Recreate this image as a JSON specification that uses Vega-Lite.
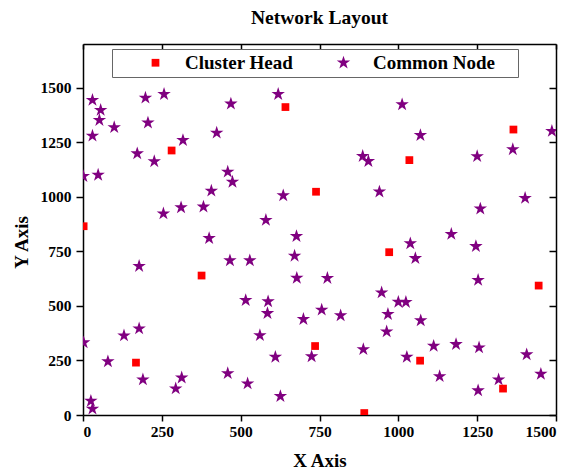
{
  "$schema": "https://vega.github.io/schema/vega-lite/v6.json",
  "autosize": "none",
  "padding": {"left": 83, "top": 44, "right": 16, "bottom": 61},
  "width": 473,
  "height": 371,
  "background": "white",
  "title": {
    "text": "Network Layout",
    "font": "Liberation Serif",
    "fontSize": 19.5,
    "fontWeight": "bold",
    "color": "black",
    "anchor": "middle",
    "baseline": "alphabetic",
    "offset": 0
  },
  "config": {
    "view": {"stroke": null},
    "axis": {
      "grid": false,
      "labelFont": "Liberation Serif",
      "labelFontSize": 15.5,
      "labelFontWeight": "bold",
      "labelColor": "black",
      "titleFont": "Liberation Serif",
      "titleFontSize": 19,
      "titleFontWeight": "bold",
      "titleColor": "black",
      "domainColor": "black",
      "domainWidth": 1.5,
      "tickColor": "black",
      "tickWidth": 1.5
    }
  },
  "data": {
    "values": [
      {"x": 30, "y": 1443, "type": "Common Node"},
      {"x": 56, "y": 1397, "type": "Common Node"},
      {"x": 52, "y": 1351, "type": "Common Node"},
      {"x": 99, "y": 1318, "type": "Common Node"},
      {"x": 30, "y": 1279, "type": "Common Node"},
      {"x": 198, "y": 1453, "type": "Common Node"},
      {"x": 257, "y": 1470, "type": "Common Node"},
      {"x": 206, "y": 1339, "type": "Common Node"},
      {"x": 317, "y": 1259, "type": "Common Node"},
      {"x": 172, "y": 1198, "type": "Common Node"},
      {"x": 226, "y": 1162, "type": "Common Node"},
      {"x": 469, "y": 1426, "type": "Common Node"},
      {"x": 424, "y": 1293, "type": "Common Node"},
      {"x": 459, "y": 1114, "type": "Common Node"},
      {"x": 474, "y": 1068, "type": "Common Node"},
      {"x": 619, "y": 1470, "type": "Common Node"},
      {"x": 407, "y": 1027, "type": "Common Node"},
      {"x": 382, "y": 954, "type": "Common Node"},
      {"x": 311, "y": 951, "type": "Common Node"},
      {"x": 255, "y": 923, "type": "Common Node"},
      {"x": 48, "y": 1100, "type": "Common Node"},
      {"x": 1, "y": 1094, "type": "Common Node"},
      {"x": 635, "y": 1006, "type": "Common Node"},
      {"x": 580, "y": 893, "type": "Common Node"},
      {"x": 1012, "y": 1423, "type": "Common Node"},
      {"x": 1070, "y": 1282, "type": "Common Node"},
      {"x": 1487, "y": 1301, "type": "Common Node"},
      {"x": 887, "y": 1186, "type": "Common Node"},
      {"x": 905, "y": 1163, "type": "Common Node"},
      {"x": 1250, "y": 1185, "type": "Common Node"},
      {"x": 1363, "y": 1217, "type": "Common Node"},
      {"x": 940, "y": 1023, "type": "Common Node"},
      {"x": 1402, "y": 994, "type": "Common Node"},
      {"x": 1260, "y": 945, "type": "Common Node"},
      {"x": 400, "y": 810, "type": "Common Node"},
      {"x": 677, "y": 819, "type": "Common Node"},
      {"x": 671, "y": 729, "type": "Common Node"},
      {"x": 678, "y": 628, "type": "Common Node"},
      {"x": 466, "y": 708, "type": "Common Node"},
      {"x": 529, "y": 708, "type": "Common Node"},
      {"x": 178, "y": 682, "type": "Common Node"},
      {"x": 516, "y": 526, "type": "Common Node"},
      {"x": 587, "y": 520, "type": "Common Node"},
      {"x": 585, "y": 466, "type": "Common Node"},
      {"x": 699, "y": 439, "type": "Common Node"},
      {"x": 561, "y": 365, "type": "Common Node"},
      {"x": 178, "y": 396, "type": "Common Node"},
      {"x": 130, "y": 364, "type": "Common Node"},
      {"x": 2, "y": 332, "type": "Common Node"},
      {"x": 79, "y": 245, "type": "Common Node"},
      {"x": 190, "y": 162, "type": "Common Node"},
      {"x": 313, "y": 171, "type": "Common Node"},
      {"x": 294, "y": 121, "type": "Common Node"},
      {"x": 459, "y": 191, "type": "Common Node"},
      {"x": 522, "y": 144, "type": "Common Node"},
      {"x": 626, "y": 86, "type": "Common Node"},
      {"x": 610, "y": 266, "type": "Common Node"},
      {"x": 725, "y": 268, "type": "Common Node"},
      {"x": 757, "y": 482, "type": "Common Node"},
      {"x": 25, "y": 64, "type": "Common Node"},
      {"x": 30, "y": 28, "type": "Common Node"},
      {"x": 1168, "y": 829, "type": "Common Node"},
      {"x": 1038, "y": 786, "type": "Common Node"},
      {"x": 1054, "y": 718, "type": "Common Node"},
      {"x": 1246, "y": 773, "type": "Common Node"},
      {"x": 1253, "y": 618, "type": "Common Node"},
      {"x": 775, "y": 627, "type": "Common Node"},
      {"x": 947, "y": 561, "type": "Common Node"},
      {"x": 1000, "y": 518, "type": "Common Node"},
      {"x": 1024, "y": 517, "type": "Common Node"},
      {"x": 967, "y": 462, "type": "Common Node"},
      {"x": 1071, "y": 433, "type": "Common Node"},
      {"x": 963, "y": 382, "type": "Common Node"},
      {"x": 817, "y": 456, "type": "Common Node"},
      {"x": 889, "y": 301, "type": "Common Node"},
      {"x": 1027, "y": 266, "type": "Common Node"},
      {"x": 1112, "y": 316, "type": "Common Node"},
      {"x": 1183, "y": 324, "type": "Common Node"},
      {"x": 1256, "y": 309, "type": "Common Node"},
      {"x": 1131, "y": 177, "type": "Common Node"},
      {"x": 1253, "y": 112, "type": "Common Node"},
      {"x": 1318, "y": 162, "type": "Common Node"},
      {"x": 1407, "y": 277, "type": "Common Node"},
      {"x": 1452, "y": 188, "type": "Common Node"},
      {"x": 281, "y": 1212, "type": "Cluster Head"},
      {"x": 642, "y": 1411, "type": "Cluster Head"},
      {"x": 739, "y": 1023, "type": "Cluster Head"},
      {"x": 2, "y": 865, "type": "Cluster Head"},
      {"x": 376, "y": 639, "type": "Cluster Head"},
      {"x": 168, "y": 240, "type": "Cluster Head"},
      {"x": 736, "y": 316, "type": "Cluster Head"},
      {"x": 1365, "y": 1308, "type": "Cluster Head"},
      {"x": 1035, "y": 1168, "type": "Cluster Head"},
      {"x": 971, "y": 746, "type": "Cluster Head"},
      {"x": 1445, "y": 593, "type": "Cluster Head"},
      {"x": 1069, "y": 249, "type": "Cluster Head"},
      {"x": 1332, "y": 121, "type": "Cluster Head"},
      {"x": 892, "y": 9, "type": "Cluster Head"}
    ]
  },
  "layer": [
    {
      "mark": {"type": "point", "filled": true, "opacity": 1, "strokeWidth": 0, "clip": true},
      "encoding": {
        "x": {
          "field": "x", "type": "quantitative",
          "scale": {"domain": [0, 1500], "nice": false},
          "axis": {"title": "X Axis", "format": "d", "values": [0, 250, 500, 750, 1000, 1250, 1500], "tickSize": 6, "labelPadding": 3, "titlePadding": 12}
        },
        "y": {
          "field": "y", "type": "quantitative",
          "scale": {"domain": [0, 1700], "nice": false},
          "axis": {"title": "Y Axis", "format": "d", "values": [0, 250, 500, 750, 1000, 1250, 1500], "tickSize": 7, "labelPadding": 5, "titlePadding": 9, "titleY": 198}
        },
        "color": {
          "field": "type", "type": "nominal",
          "scale": {"domain": ["Cluster Head", "Common Node"], "range": ["#ff0000", "#800080"]},
          "legend": {
            "title": null,
            "orient": "none",
            "legendX": 29,
            "legendY": 5,
            "direction": "horizontal",
            "strokeColor": "#666666",
            "fillColor": "white",
            "padding": 4,
            "symbolOffset": 30,
            "labelOffset": 20,
            "columnPadding": 10,
            "labelFont": "Liberation Serif",
            "labelFontSize": 19,
            "labelFontWeight": "bold",
            "labelColor": "black",
            "labelExpr": "datum.label == 'Common Node' ? datum.label + '\u00a0\u2800' : datum.label"
          }
        },
        "shape": {
          "field": "type", "type": "nominal",
          "scale": {"domain": ["Cluster Head", "Common Node"], "range": ["square", "M0,-1L0.225,-0.309L0.951,-0.309L0.363,0.118L0.588,0.809L0,0.382L-0.588,0.809L-0.363,0.118L-0.951,-0.309L-0.225,-0.309Z"]}
        },
        "size": {
          "field": "type", "type": "nominal",
          "scale": {"domain": ["Cluster Head", "Common Node"], "range": [60, 200]}
        }
      }
    },
    {
      "data": {"values": []},
      "mark": {"type": "point", "clip": true},
      "encoding": {
        "x": {
          "field": "x", "type": "quantitative",
          "axis": {"orient": "top", "title": null, "labels": false, "values": [0, 250, 500, 750, 1000, 1250, 1500], "tickSize": -5}
        },
        "y": {
          "field": "y", "type": "quantitative",
          "axis": {"orient": "right", "title": null, "labels": false, "values": [0, 250, 500, 750, 1000, 1250, 1500], "tickSize": -7}
        }
      }
    }
  ],
  "resolve": {"axis": {"x": "independent", "y": "independent"}}
}
